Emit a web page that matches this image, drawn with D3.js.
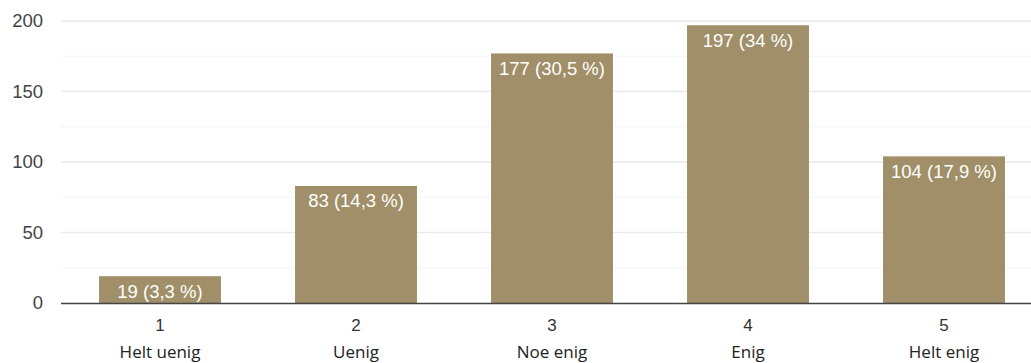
<!DOCTYPE html>
<html>
  <head>
    <meta charset="UTF-8">
    <title>enig</title>
    <script src="https://cdn.jsdelivr.net/npm/d3@7"></script>
    <style>
      body { margin: 0; background: #fff; }
    </style>
  </head>
  <body>
    <script>
      // data
      var codes = ["1", "2", "3", "4", "5"];
      var names = ["Helt uenig", "Uenig", "Noe enig", "Enig", "Helt enig"];
      var counts = [19, 83, 177, 197, 104];
      var shares = ["3,3", "14,3", "30,5", "34", "17,9"];
      var yTicks = [0, 50, 100, 150, 200];
      var yMinor = [25, 75, 125, 175];

      var w = 1031, h = 363;
      var svg = d3.select("body").append("svg")
        .attr("width", w).attr("height", h);

      var x = d3.scaleBand().domain(codes).range([62, 1042])
        .paddingInner(0.378).paddingOuter(0.189);
      var y = d3.scaleLinear().domain([0, 200]).range([303, 21]);

      // gridlines, light ones in between
      svg.selectAll("line.minor").data(yMinor).enter().append("line")
        .attr("x1", 61).attr("x2", w)
        .attr("y1", function(d) { return y(d); }).attr("y2", function(d) { return y(d); })
        .style("stroke", "#f4f4f4").style("stroke-width", 1.2);
      svg.selectAll("line.major").data(yTicks.slice(1)).enter().append("line")
        .attr("x1", 61).attr("x2", w)
        .attr("y1", function(d) { return y(d); }).attr("y2", function(d) { return y(d); })
        .style("stroke", "#e9e9e9").style("stroke-width", 1.3);

      var yAxis = svg.append("g").attr("transform", "translate(43,0)")
        .call(d3.axisLeft(y).tickValues(yTicks).tickSize(0).tickPadding(0));
      yAxis.select(".domain").remove();
      yAxis.selectAll("text")
        .style("font-family", "'Liberation Sans', Arial, sans-serif")
        .style("font-size", "18.5px").style("fill", "#444");

      svg.selectAll("rect.bar").data(counts).enter().append("rect")
        .attr("x", function(d, i) { return x(codes[i]); })
        .attr("width", x.bandwidth())
        .attr("y", function(d) { return y(d); })
        .attr("height", function(d) { return y(0) - y(d); })
        .style("fill", "#a08f68");

      svg.selectAll("text.val").data(counts).enter().append("text")
        .attr("x", function(d, i) { return x(codes[i]) + x.bandwidth() / 2; })
        .attr("y", function(d) { return y(d) + 21.5; })
        .attr("text-anchor", "middle")
        .style("font-family", "'Liberation Sans', Arial, sans-serif")
        .style("font-size", "18.5px").style("fill", "#fff")
        .text(function(d, i) { return d + " (" + shares[i] + " %)"; });

      // baseline
      svg.append("line").attr("x1", 61).attr("x2", w)
        .attr("y1", y(0) + 0.5).attr("y2", y(0) + 0.5)
        .style("stroke", "#444").style("stroke-width", 1.3);

      var xAxis = svg.append("g").attr("transform", "translate(0," + y(0) + ")")
        .call(d3.axisBottom(x).tickSize(0).tickPadding(0));
      xAxis.select(".domain").remove();
      xAxis.selectAll("text").remove();
      xAxis.selectAll(".tick").append("text")
        .attr("y", 28).attr("text-anchor", "middle")
        .style("font-family", "'Liberation Sans', Arial, sans-serif")
        .style("font-size", "17px").style("fill", "#333")
        .text(function(d) { return d; });
      xAxis.selectAll(".tick").append("text")
        .attr("y", 55).attr("text-anchor", "middle")
        .style("font-family", "'Open Sans', sans-serif")
        .style("font-size", "17px").style("fill", "#222")
        .text(function(d, i) { return names[i]; });
    </script>
  </body>
</html>
